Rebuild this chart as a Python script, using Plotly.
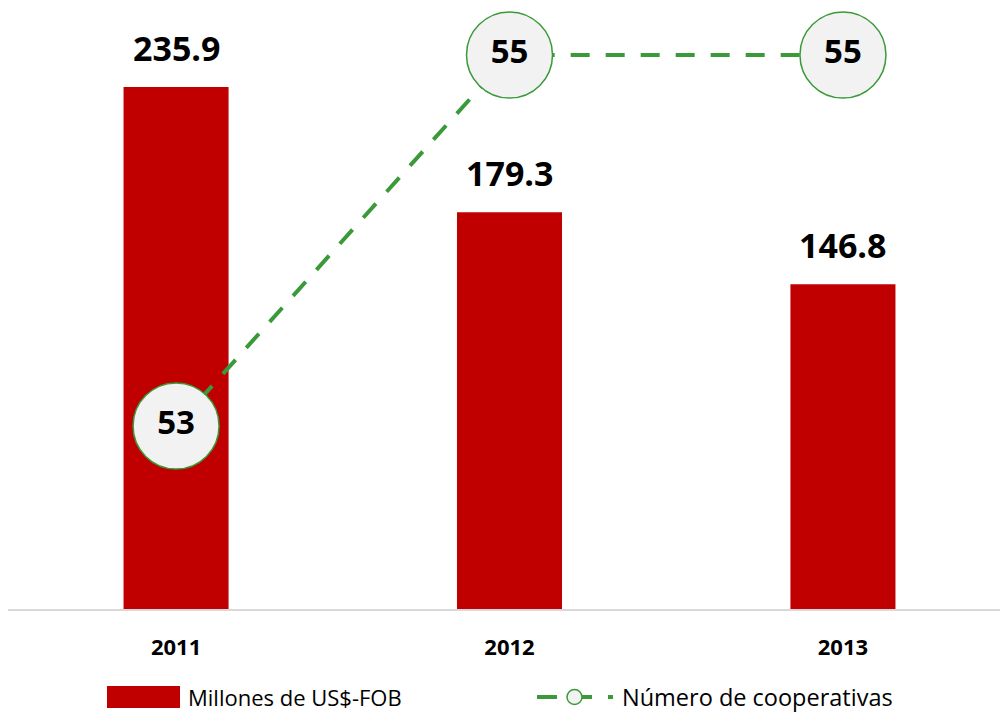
import plotly.graph_objects as go

years = ["2011", "2012", "2013"]
fob_values = [235.9, 179.3, 146.8]
fob_labels = ["235.9", "179.3", "146.8"]
coops = [53, 55, 55]
coop_labels = ["53", "55", "55"]

RED = "#C00000"
GREEN = "#3A9A3A"
FONT = "Open Sans"

W, H = 1000, 713
L, R, T, B = 8, 0, 10, 104

def px(x):
    return (x - L) / (W - L - R)

def py(y):
    return (H - B - y) / (H - T - B)

fig = go.Figure()
fig.add_trace(go.Bar(
    x=years, y=fob_values, marker=dict(color=RED, line=dict(width=0)),
    width=0.315, name="Millones de US$-FOB", showlegend=False,
))
fig.add_trace(go.Scatter(
    x=years, y=coops, yaxis="y2", mode="lines+markers+text",
    text=coop_labels, textposition="middle center",
    textfont=dict(family=FONT, size=33, color="black", weight="bold"),
    line=dict(color=GREEN, width=4, dash="19px,16px"),
    marker=dict(size=86, color="#F2F2F2", line=dict(color=GREEN, width=1.5)),
    name="Número de cooperativas", showlegend=False, cliponaxis=False,
))

annotations = []
for i, (v, lab) in enumerate(zip(fob_values, fob_labels)):
    annotations.append(dict(
        x=i, y=v, xref="x", yref="y", text=lab, showarrow=False,
        yanchor="bottom", yshift=14,
        font=dict(family=FONT, size=34, color="black", weight="bold"),
    ))

# manual legend
shapes = [
    dict(type="rect", xref="paper", yref="paper",
         x0=px(107), x1=px(180), y0=py(708), y1=py(686),
         fillcolor=RED, line=dict(width=0)),
    dict(type="line", xref="paper", yref="paper",
         x0=px(537), x1=px(557), y0=py(697), y1=py(697),
         line=dict(color=GREEN, width=4)),
    dict(type="line", xref="paper", yref="paper",
         x0=px(582), x1=px(592), y0=py(697), y1=py(697),
         line=dict(color=GREEN, width=4)),
    dict(type="line", xref="paper", yref="paper",
         x0=px(608), x1=px(613), y0=py(697), y1=py(697),
         line=dict(color=GREEN, width=4)),
    dict(type="circle", xref="paper", yref="paper",
         x0=px(567), x1=px(582), y0=py(704.5), y1=py(689.5),
         fillcolor="#F2F2F2", line=dict(color=GREEN, width=1.5)),
]
annotations.append(dict(xref="paper", yref="paper", x=px(186), y=py(697),
    xanchor="left", yanchor="middle", text="Millones de US$-FOB", showarrow=False,
    font=dict(family=FONT, size=22, color="black")))
annotations.append(dict(xref="paper", yref="paper", x=px(620), y=py(697),
    xanchor="left", yanchor="middle", text="Número de cooperativas", showarrow=False,
    font=dict(family=FONT, size=23.5, color="black")))

fig.update_layout(
    width=W, height=H,
    margin=dict(l=L, r=R, t=T, b=B),
    paper_bgcolor="white", plot_bgcolor="white",
    showlegend=False,
    xaxis=dict(type="category", range=[-0.504, 2.471], showgrid=False,
               showline=True, linecolor="#D9D9D9", linewidth=1.5,
               ticks="", tickfont=dict(family=FONT, size=22, color="black", weight="bold"),
               ticklabelstandoff=18),
    yaxis=dict(range=[0, 270.7], visible=False, showgrid=False, zeroline=False),
    yaxis2=dict(range=[52.0135, 55.2426], overlaying="y", side="right",
                visible=False, showgrid=False, zeroline=False),
    annotations=annotations, shapes=shapes,
    font=dict(family=FONT),
)

fig.write_html("out.html", config={"displayModeBar": False},
               post_script="document.body.style.margin='0px';document.body.style.overflow='hidden';")
